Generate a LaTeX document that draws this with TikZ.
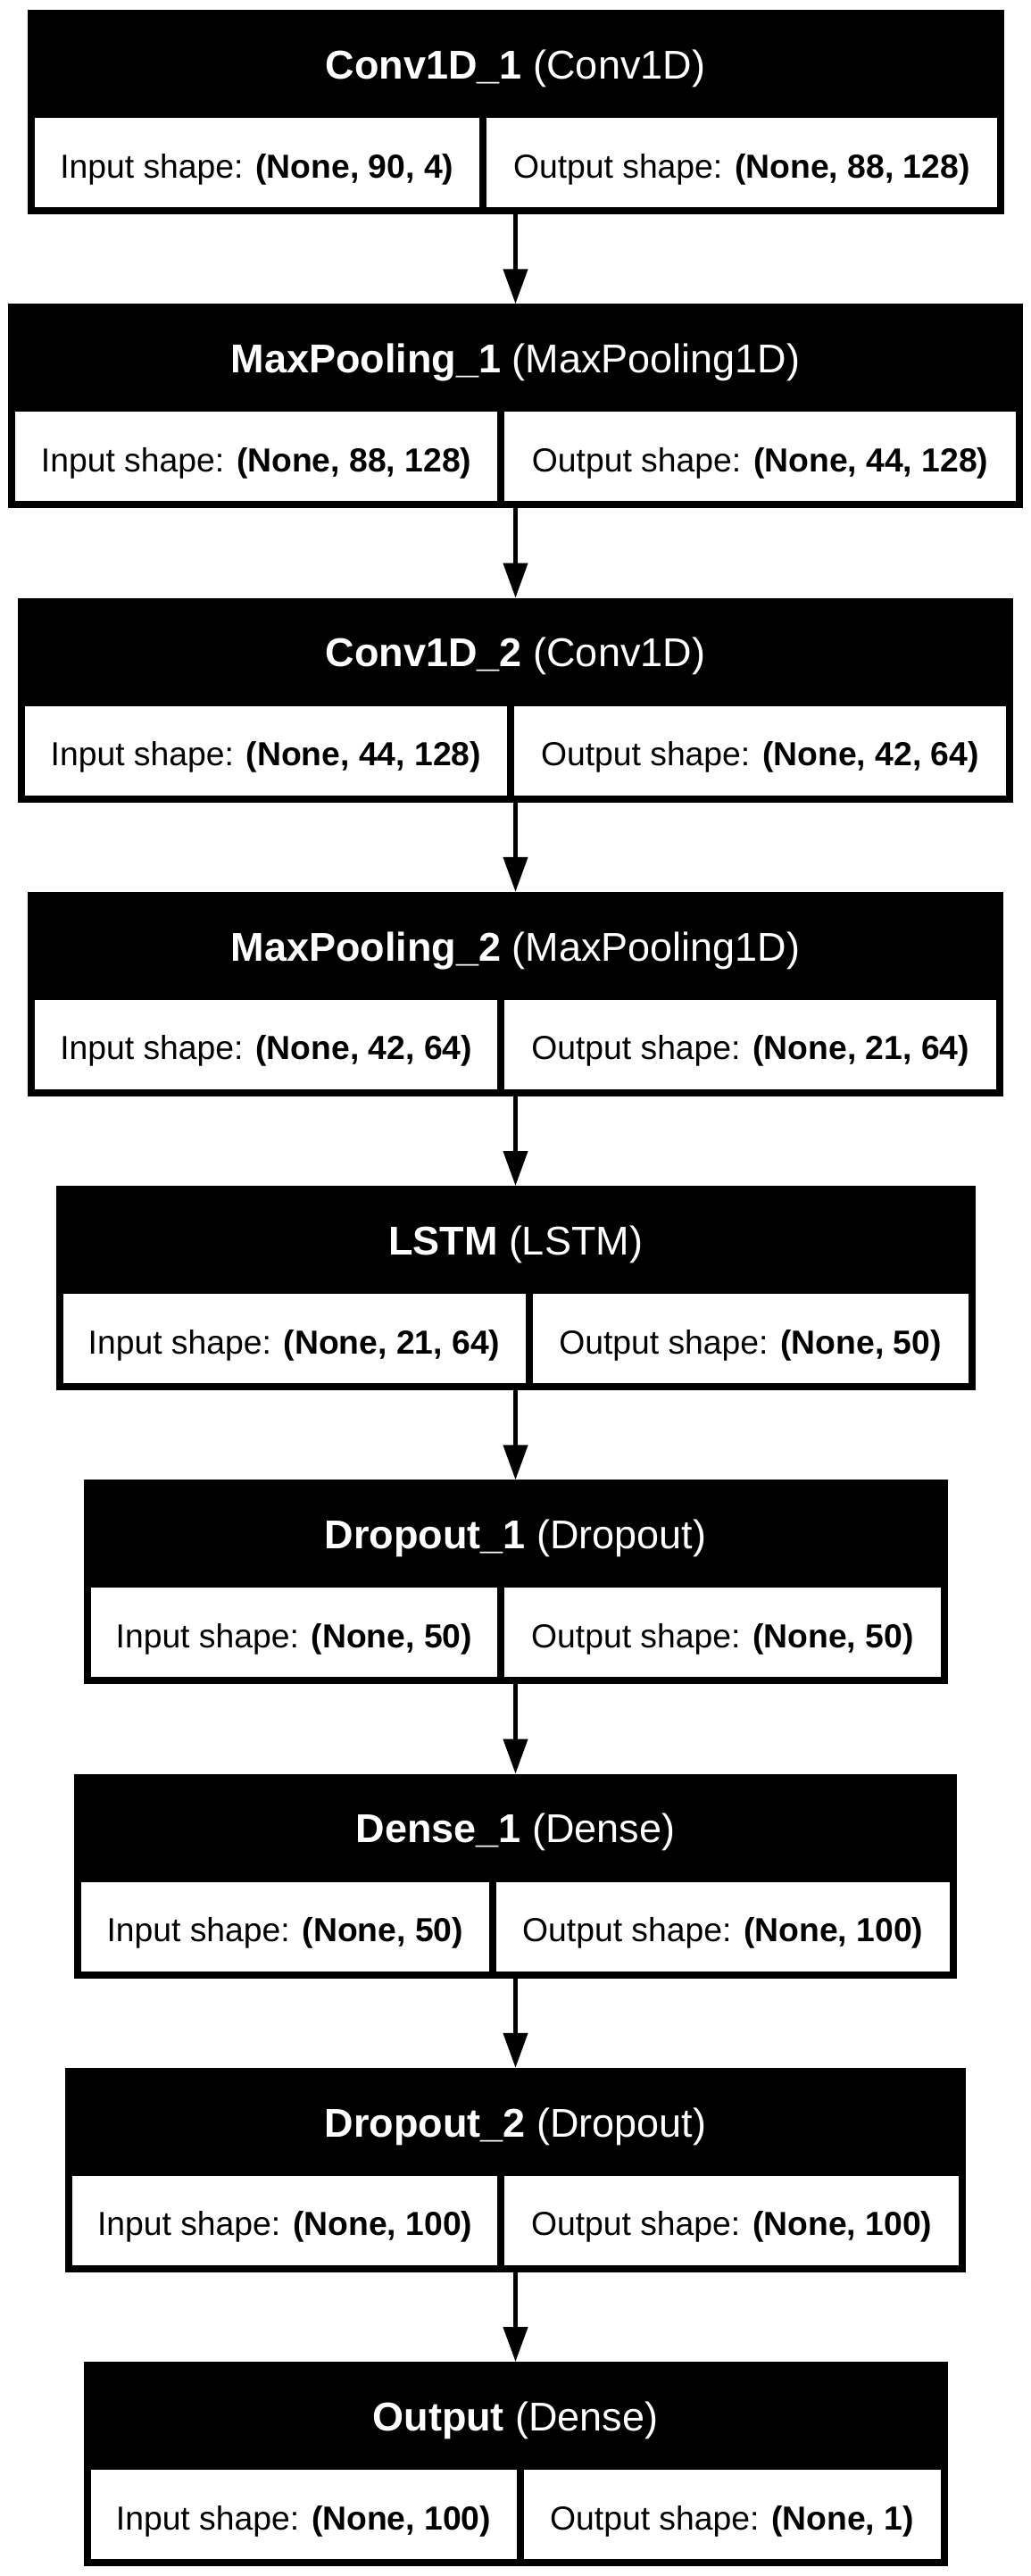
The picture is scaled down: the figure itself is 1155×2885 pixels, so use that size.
\documentclass[tikz,border=0pt]{standalone}
\usepackage{fontspec}
\setmainfont{Liberation Sans}
\usetikzlibrary{arrows.meta}
\begin{document}
\begin{tikzpicture}[x=1pt,y=-1pt,
        headbox/.style={fill=black,text=white,inner sep=0pt,outer sep=0pt,minimum height=121pt,
            text height=45pt,text depth=11.4pt,font=\fontsize{45}{54}\selectfont},
        shapebox/.style={draw=black,line width=8pt,fill=white,inner sep=0pt,outer sep=0pt,minimum height=108pt,
            text height=40pt,text depth=6pt,font=\fontsize{37.3}{45}\selectfont},
        flowarrow/.style={line width=4.5pt,-{Triangle[length=39pt,width=27pt]}}]
        \useasboundingbox (0,0) rectangle (1155,2885);

        \node[headbox,minimum width=1094pt] (conv1) at (577.5,71.5) {\textbf{Conv1D\_1} (Conv1D)};
        \node[shapebox,minimum width=506.5pt] (conv1in) at (287.75,182) {Input shape: \textbf{(None, 90, 4)}};
        \node[shapebox,minimum width=579.5pt] (conv1out) at (830.75,182) {Output shape: \textbf{(None, 88, 128)}};

        \node[headbox,minimum width=1137pt] (pool1) at (577.5,400.75) {\textbf{MaxPooling\_1} (MaxPooling1D)};
        \node[shapebox,minimum width=548.25pt] (pool1in) at (287.125,511.25) {Input shape: \textbf{(None, 88, 128)}};
        \node[shapebox,minimum width=580.75pt] (pool1out) at (851.625,511.25) {Output shape: \textbf{(None, 44, 128)}};

        \node[headbox,minimum width=1115pt] (conv2) at (577.5,730) {\textbf{Conv1D\_2} (Conv1D)};
        \node[shapebox,minimum width=547.75pt] (conv2in) at (297.875,840.5) {Input shape: \textbf{(None, 44, 128)}};
        \node[shapebox,minimum width=559.25pt] (conv2out) at (851.375,840.5) {Output shape: \textbf{(None, 42, 64)}};

        \node[headbox,minimum width=1093pt] (pool2) at (577.5,1059.25) {\textbf{MaxPooling\_2} (MaxPooling1D)};
        \node[shapebox,minimum width=526.25pt] (pool2in) at (298.125,1169.75) {Input shape: \textbf{(None, 42, 64)}};
        \node[shapebox,minimum width=558.75pt] (pool2out) at (840.625,1169.75) {Output shape: \textbf{(None, 21, 64)}};

        \node[headbox,minimum width=1030pt] (lstm) at (577.5,1388.5) {\textbf{LSTM} (LSTM)};
        \node[shapebox,minimum width=526pt] (lstmin) at (329.5,1499) {Input shape: \textbf{(None, 21, 64)}};
        \node[shapebox,minimum width=496pt] (lstmout) at (840.5,1499) {Output shape: \textbf{(None, 50)}};

        \node[headbox,minimum width=968pt] (drop1) at (577.5,1717.75) {\textbf{Dropout\_1} (Dropout)};
        \node[shapebox,minimum width=463.75pt] (drop1in) at (329.375,1828.25) {Input shape: \textbf{(None, 50)}};
        \node[shapebox,minimum width=496.25pt] (drop1out) at (809.375,1828.25) {Output shape: \textbf{(None, 50)}};

        \node[headbox,minimum width=989pt] (dense1) at (577.5,2047) {\textbf{Dense\_1} (Dense)};
        \node[shapebox,minimum width=464.5pt] (dense1in) at (319.25,2157.5) {Input shape: \textbf{(None, 50)}};
        \node[shapebox,minimum width=516.5pt] (dense1out) at (809.75,2157.5) {Output shape: \textbf{(None, 100)}};

        \node[headbox,minimum width=1009pt] (drop2) at (577.5,2376.25) {\textbf{Dropout\_2} (Dropout)};
        \node[shapebox,minimum width=484.25pt] (drop2in) at (319.125,2486.75) {Input shape: \textbf{(None, 100)}};
        \node[shapebox,minimum width=516.75pt] (drop2out) at (819.625,2486.75) {Output shape: \textbf{(None, 100)}};

        \node[headbox,minimum width=968pt] (output) at (577.5,2705.5) {\textbf{Output} (Dense)};
        \node[shapebox,minimum width=485pt] (outputin) at (340,2816) {Input shape: \textbf{(None, 100)}};
        \node[shapebox,minimum width=475pt] (outputout) at (820,2816) {Output shape: \textbf{(None, 1)}};

        \draw[flowarrow] (conv1.south |- conv1in.south) -- (pool1.north);
        \draw[flowarrow] (pool1.south |- pool1in.south) -- (conv2.north);
        \draw[flowarrow] (conv2.south |- conv2in.south) -- (pool2.north);
        \draw[flowarrow] (pool2.south |- pool2in.south) -- (lstm.north);
        \draw[flowarrow] (lstm.south |- lstmin.south) -- (drop1.north);
        \draw[flowarrow] (drop1.south |- drop1in.south) -- (dense1.north);
        \draw[flowarrow] (dense1.south |- dense1in.south) -- (drop2.north);
        \draw[flowarrow] (drop2.south |- drop2in.south) -- (output.north);
    \end{tikzpicture}
\end{document}
